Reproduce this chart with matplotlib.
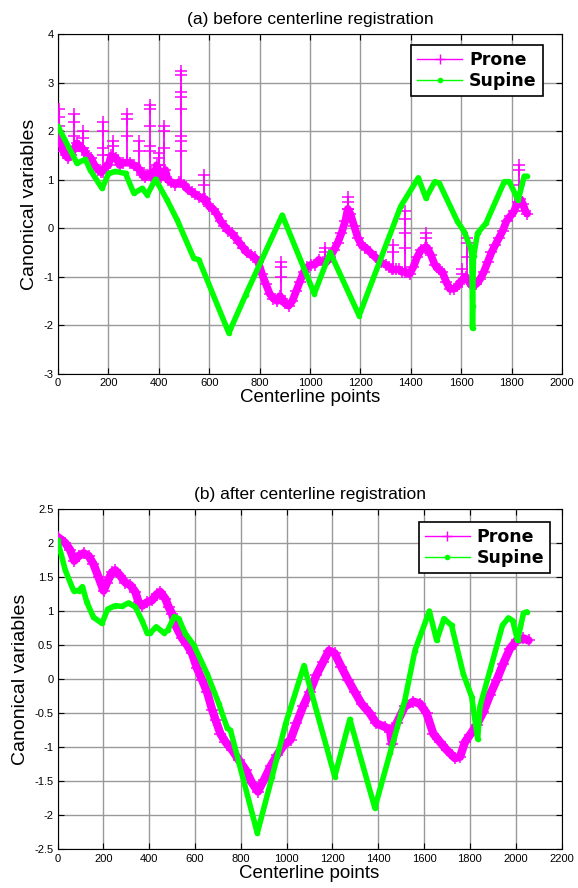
import matplotlib
matplotlib.use("Agg")
import matplotlib.pyplot as plt
from matplotlib.lines import Line2D
from matplotlib.ticker import FuncFormatter, MultipleLocator

plt.rcParams['font.family'] = ['Liberation Sans', 'DejaVu Sans']
plt.rcParams['axes.unicode_minus'] = False

# ---------------- (a) before centerline registration ----------------
# prone band (values read along the band centre)
prone_a_x = [0, 10, 20, 30, 40, 50, 60, 75, 85, 95, 105, 115, 130, 145, 160, 172, 185, 200, 212,
             230, 245, 260, 285, 300, 315, 325, 335, 345, 355, 370, 380, 392, 408, 426, 435, 450,
             465, 480, 500, 515, 530, 545, 560, 575, 585, 600, 615, 630, 645, 660, 675, 690, 705,
             720, 735, 750, 765, 780, 795, 810, 825, 840, 855, 870, 880, 890, 900, 915, 930, 945,
             960, 975, 990, 1005, 1020, 1035, 1050, 1065, 1080, 1095, 1110, 1125, 1140, 1150,
             1160, 1175, 1190, 1205, 1220, 1240, 1260, 1280, 1300, 1315, 1325, 1340, 1355, 1365,
             1380, 1395, 1410, 1425, 1440, 1455, 1465, 1480, 1495, 1510, 1525, 1540, 1555, 1570,
             1585, 1598, 1610, 1618, 1630, 1645, 1660, 1675, 1690, 1705, 1720, 1735, 1750, 1765,
             1780, 1795, 1810, 1825, 1835, 1845, 1855, 1862]
prone_a_y = [2.0, 1.8, 1.6, 1.5, 1.45, 1.5, 1.6, 1.75, 1.7, 1.65, 1.6, 1.5, 1.45, 1.3, 1.2, 1.15,
             1.25, 1.3, 1.5, 1.45, 1.3, 1.35, 1.35, 1.3, 1.25, 1.2, 1.1, 1.05, 1.1, 1.15, 1.0, 1.3,
             1.05, 1.2, 1.0, 0.95, 0.9, 0.95, 0.9, 0.8, 0.75, 0.7, 0.65, 0.6, 0.6, 0.45, 0.4, 0.3,
             0.15, 0.05, -0.05, -0.1, -0.2, -0.3, -0.4, -0.5, -0.55, -0.6, -0.7, -0.95, -1.15,
             -1.35, -1.45, -1.5, -1.4, -1.45, -1.55, -1.6, -1.5, -1.3, -1.1, -0.9, -0.8, -0.75,
             -0.75, -0.65, -0.7, -0.7, -0.6, -0.45, -0.3, -0.1, 0.15, 0.4, 0.3, 0.05, -0.2, -0.35,
             -0.4, -0.5, -0.6, -0.7, -0.75, -0.8, -0.85, -0.85, -0.85, -0.9, -0.9, -0.95, -0.8,
             -0.6, -0.45, -0.4, -0.4, -0.55, -0.75, -0.85, -0.9, -1.1, -1.25, -1.25, -1.2, -1.1,
             -1.05, -1.0, -1.1, -1.2, -1.15, -1.05, -0.9, -0.7, -0.5, -0.35, -0.2, -0.05, 0.15,
             0.25, 0.35, 0.55, 0.6, 0.5, 0.35, 0.3]
# prone spikes: x position and the + marks stacked along each spike
spike_a_x = [5, 62, 100, 178, 220, 272, 320, 366, 400, 422, 490, 580, 885, 1058, 1152, 1330,
             1376, 1460, 1602, 1622, 1830]
spike_a_y = [[1.9, 2.1, 2.3, 2.45], [1.6, 1.9, 2.2, 2.35], [1.65, 1.85, 2.0],
             [1.15, 1.5, 1.65, 2.0, 2.2], [1.5, 1.7, 1.8], [1.4, 1.9, 2.25, 2.35],
             [1.25, 1.6, 1.8], [1.1, 1.6, 1.7, 2.1, 2.45, 2.55], [1.3, 1.45, 1.55],
             [1.1, 1.65, 2.0, 2.1], [0.95, 1.6, 1.8, 1.9, 2.45, 2.7, 2.8, 3.15, 3.25],
             [0.6, 0.9, 1.1], [-1.45, -1.0, -0.8, -0.7], [-0.7, -0.5, -0.4],
             [0.4, 0.55, 0.65], [-0.85, -0.5, -0.35], [-0.9, -0.4, -0.1, 0.2, 0.35],
             [-0.4, -0.2, -0.1], [-1.1, -0.95, -0.85], [-1.05, -0.6, -0.3, -0.2],
             [0.55, 0.9, 1.2, 1.3]]

supine_a_x = [0, 75, 109, 128, 175, 201, 228, 268, 301, 334, 354, 387, 433, 473, 539, 559, 678,
              745, 890, 1017, 1080, 1195, 1360, 1430, 1460, 1495, 1513, 1585, 1612, 1638, 1642,
              1643, 1644, 1645, 1646, 1647, 1649, 1665, 1698, 1771, 1791, 1826, 1850, 1861]
supine_a_y = [2.1, 1.34, 1.42, 1.2, 0.82, 1.13, 1.17, 1.13, 0.72, 0.82, 0.69, 1.01, 0.58, 0.17,
              -0.62, -0.65, -2.16, -1.37, 0.27, -1.35, -0.5, -1.8, 0.45, 1.04, 0.62, 0.96, 0.93,
              0.14, -0.07, -0.42, -0.55, -0.9, -1.4, -2.06, -1.6, -1.0, -0.58, -0.10, 0.10, 0.96,
              0.96, 0.58, 1.07, 1.07]

# ---------------- (b) after centerline registration ----------------
prone_b_x = [0, 34, 55, 73, 92, 114, 136, 157, 179, 201, 216, 238, 252, 274, 296, 318, 340, 354,
             369, 391, 413, 434, 449, 471, 485, 500, 515, 544, 566, 587, 609, 631, 653, 675, 690,
             711, 733, 762, 792, 821, 850, 875, 901, 930, 959, 988, 1017, 1043, 1072, 1101, 1130,
             1159, 1185, 1210, 1239, 1268, 1298, 1327, 1363, 1392, 1429, 1451, 1460, 1468, 1480,
             1516, 1553, 1582, 1611, 1640, 1669, 1699, 1735, 1757, 1779, 1800, 1830, 1859, 1888,
             1917, 1946, 1975, 2005, 2034, 2056]
prone_b_y = [2.09, 2.0, 1.9, 1.74, 1.81, 1.85, 1.81, 1.69, 1.5, 1.3, 1.42, 1.57, 1.6, 1.52, 1.42,
             1.38, 1.28, 1.13, 1.08, 1.13, 1.16, 1.25, 1.28, 1.18, 1.06, 0.96, 0.79, 0.60, 0.50,
             0.38, 0.16, -0.01, -0.19, -0.45, -0.60, -0.80, -0.92, -1.04, -1.19, -1.33, -1.53,
             -1.65, -1.48, -1.28, -1.11, -0.97, -0.89, -0.65, -0.40, -0.19, 0.06, 0.25, 0.42,
             0.38, 0.18, -0.01, -0.19, -0.36, -0.50, -0.65, -0.70, -0.75, -0.95, -0.72, -0.65,
             -0.40, -0.33, -0.36, -0.50, -0.80, -0.92, -1.04, -1.16, -1.14, -0.92, -0.82, -0.67,
             -0.48, -0.23, -0.01, 0.23, 0.45, 0.57, 0.60, 0.57]

supine_b_x = [0, 34, 70, 92, 109, 128, 157, 194, 219, 252, 281, 310, 340, 369, 391, 405, 431, 464,
              481, 510, 529, 558, 595, 653, 704, 741, 755, 872, 937, 996, 1076, 1210, 1276, 1385,
              1451, 1516, 1560, 1623, 1655, 1687, 1720, 1771, 1808, 1834, 1844, 1888, 1942, 1968,
              1987, 2008, 2034, 2048]
supine_b_y = [2.04, 1.6, 1.30, 1.30, 1.36, 1.13, 0.91, 0.82, 1.03, 1.08, 1.07, 1.12, 1.06, 0.86,
              0.68, 0.68, 0.77, 0.68, 0.72, 0.92, 0.89, 0.67, 0.50, 0.08, -0.36, -0.72, -0.75,
              -2.26, -1.43, -0.65, 0.20, -1.43, -0.59, -1.89, -1.09, -0.31, 0.42, 1.0, 0.57, 0.89,
              0.79, 0.08, -0.26, -0.88, -0.40, 0.13, 0.79, 0.90, 0.86, 0.57, 0.97, 0.99]

titles = ["(a) before centerline registration", "(b) after centerline registration"]
xlabel = "Centerline points"
ylabel = "Canonical variables"
labels = ["Prone", "Supine"]

MAG = '#ff00ff'
GRN = '#00ff00'

fig = plt.figure(figsize=(5.78, 8.88), dpi=100)
ax1 = fig.add_axes([0.1003, 0.5791, 0.872, 0.3824])
ax2 = fig.add_axes([0.0995, 0.0435, 0.872, 0.3833])

fmt = FuncFormatter(lambda v, p: '%g' % v)


def style(ax, title, xlim, ylim, ystep):
    ax.set_xlim(*xlim)
    ax.set_ylim(*ylim)
    ax.xaxis.set_major_locator(MultipleLocator(200))
    ax.yaxis.set_major_locator(MultipleLocator(ystep))
    ax.xaxis.set_major_formatter(fmt)
    ax.yaxis.set_major_formatter(fmt)
    ax.grid(True, color='0.6', lw=1.0, ls='-')
    ax.set_axisbelow(True)
    ax.tick_params(direction='in', top=True, right=True, length=4, width=0.8,
                   labelsize=8, pad=3)
    for s in ax.spines.values():
        s.set_color('black')
        s.set_linewidth(0.8)
    ax.set_title(title, fontsize=12.5, pad=7)
    ax.set_xlabel(xlabel, fontsize=13.5, labelpad=1)
    ax.set_ylabel(ylabel, fontsize=14, labelpad=4)


def draw_prone(ax, px, py, lw):
    ax.plot(px, py, color=MAG, lw=lw, marker='+', ms=9, mew=1.1, zorder=3,
            solid_joinstyle='round', solid_capstyle='round')


def draw_supine(ax, sx, sy):
    ax.plot(sx, sy, color=GRN, lw=4.0, marker='.', ms=6, zorder=4,
            solid_joinstyle='round', solid_capstyle='round')


draw_prone(ax1, prone_a_x, prone_a_y, 5.5)
for sx, sys_ in zip(spike_a_x, spike_a_y):
    ax1.plot([sx] * len(sys_), sys_, color=MAG, lw=1.3, marker='+', ms=9, mew=1.1, zorder=3)
draw_supine(ax1, supine_a_x, supine_a_y)
style(ax1, titles[0], (0, 2000), (-3, 4), 1)

draw_prone(ax2, prone_b_x, prone_b_y, 6.0)
draw_supine(ax2, supine_b_x, supine_b_y)
style(ax2, titles[1], (0, 2200), (-2.5, 2.5), 0.5)

handles = [Line2D([], [], color=MAG, lw=1, marker='+', ms=7, mew=1),
           Line2D([], [], color=GRN, lw=1, marker='.', ms=6)]
for ax, anchor in ((ax1, (0.962, 0.968)), (ax2, (0.978, 0.962))):
    leg = ax.legend(handles, labels, loc='upper right', bbox_to_anchor=anchor,
                    borderaxespad=0, fancybox=False, framealpha=1, edgecolor='black',
                    prop={'family': 'DejaVu Sans', 'weight': 'bold', 'size': 12.5},
                    handlelength=2.6, handletextpad=0.4, borderpad=0.35, labelspacing=0.15)
    leg.get_frame().set_linewidth(1.2)

fig.savefig('out.png', dpi=100)
